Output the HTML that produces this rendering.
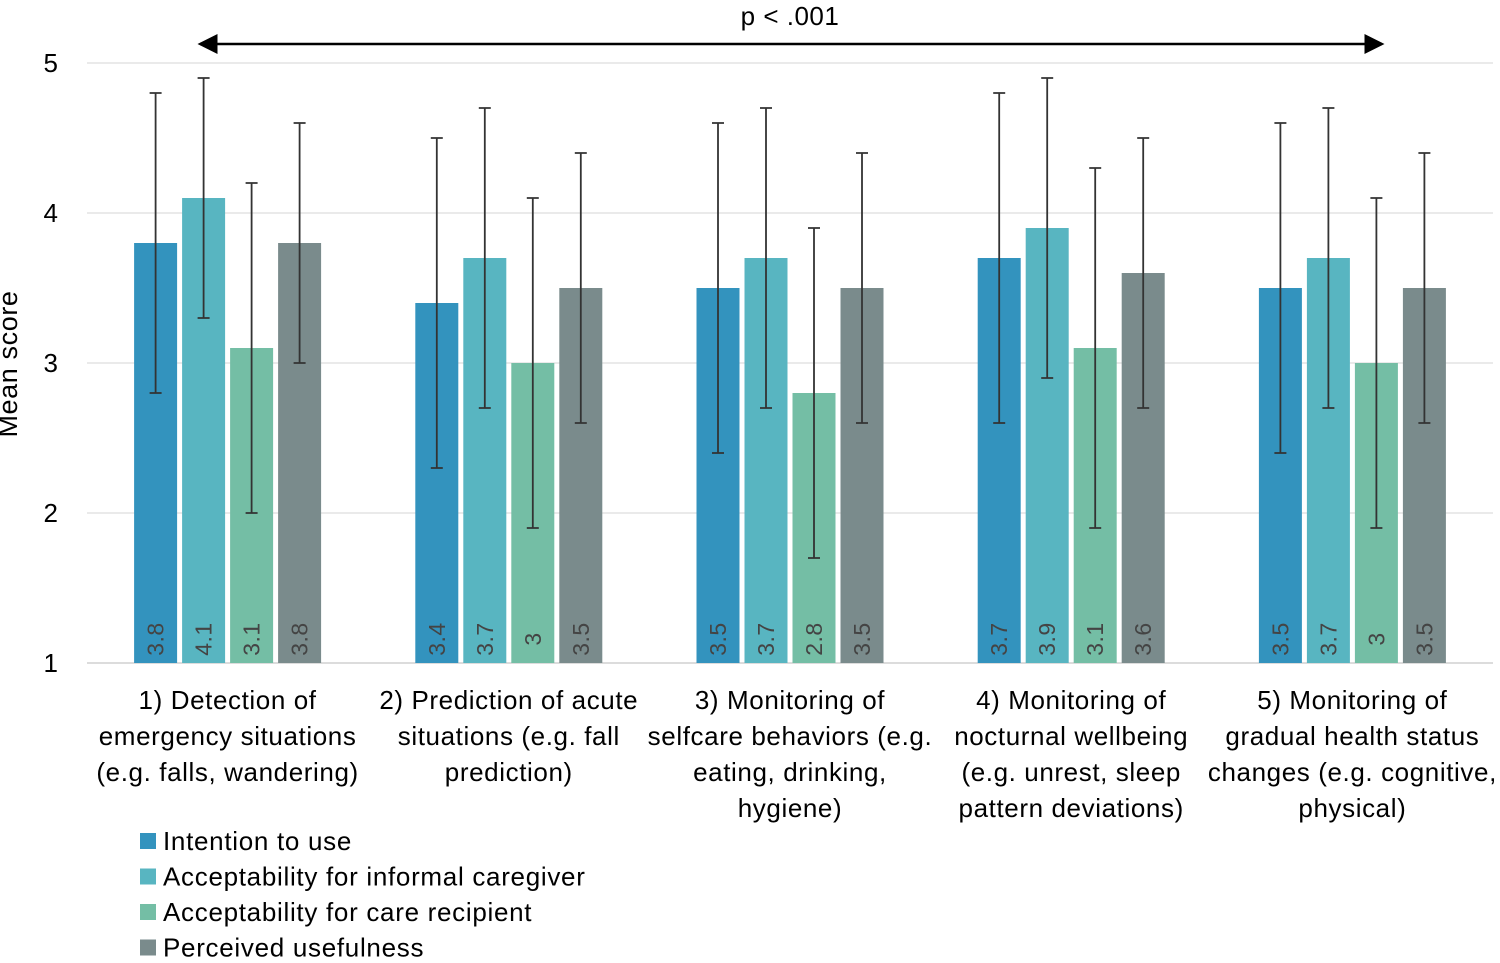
<!DOCTYPE html>
<html><head><meta charset="utf-8"><style>
body{margin:0;background:#fff;}
svg{display:block;font-family:"Liberation Sans",sans-serif;}
</style></head><body>
<svg id="chart" width="1500" height="963" viewBox="0 0 1500 963">
<defs><marker id="ah" markerWidth="8" markerHeight="8" refX="7" refY="4" orient="auto-start-reverse"><path d="M0,0 L8,4 L0,8 z" fill="#000"/></marker></defs>
<g id="grid"></g><g id="bars"></g><g id="labels"></g>
<text x="17" y="364" transform="rotate(-90 17 364)" text-anchor="middle" font-size="27" letter-spacing="0.6" fill="#000">Mean score</text>
<line x1="200" y1="44" x2="1382" y2="44" stroke="#000" stroke-width="2.5" marker-start="url(#ah)" marker-end="url(#ah)"/>
<text x="790" y="25" text-anchor="middle" font-size="26" letter-spacing="0.5" fill="#000">p &lt; .001</text>
<g id="legend"></g>
</svg>
<script>
const categories=[["1) Detection of","emergency situations","(e.g. falls, wandering)"],["2) Prediction of acute","situations (e.g. fall","prediction)"],["3) Monitoring of","selfcare behaviors (e.g.","eating, drinking,","hygiene)"],["4) Monitoring of","nocturnal wellbeing","(e.g. unrest, sleep","pattern deviations)"],["5) Monitoring of","gradual health status","changes (e.g. cognitive,","physical)"]];
const seriesNames=["Intention to use","Acceptability for informal caregiver","Acceptability for care recipient","Perceived usefulness"];
const intention=[3.8,3.4,3.5,3.7,3.5];
const informal=[4.1,3.7,3.7,3.9,3.7];
const recipient=[3.1,3.0,2.8,3.1,3.0];
const usefulness=[3.8,3.5,3.5,3.6,3.5];
const errLow=[[2.8,2.3,2.4,2.6,2.4],[3.3,2.7,2.7,2.9,2.7],[2.0,1.9,1.7,1.9,1.9],[3.0,2.6,2.6,2.7,2.6]];
const errHigh=[[4.8,4.5,4.6,4.8,4.6],[4.9,4.7,4.7,4.9,4.7],[4.2,4.1,3.9,4.3,4.1],[4.6,4.4,4.4,4.5,4.4]];
const yTicks=[1,2,3,4,5];
const series=[intention,informal,recipient,usefulness];
const colors=["#3393BE","#58B5C1","#74BEA5","#7A8B8C"];
const NS="http://www.w3.org/2000/svg";
const X0=87,X1=1493,Y0=663,PX=150;
const y=v=>Y0-(v-1)*PX;
const gw=(X1-X0)/categories.length;
const gx=i=>X0+gw*(i+0.5);
const bw=43,step=48;
function mk(t,a,p){const e=document.createElementNS(NS,t);for(const k in a)e.setAttribute(k,a[k]);p.appendChild(e);return e;}
const grid=document.getElementById('grid'),bars=document.getElementById('bars'),labels=document.getElementById('labels'),legend=document.getElementById('legend');
yTicks.forEach(t=>{
 const l=mk('line',{x1:X0,x2:X1,y1:y(t),y2:y(t),stroke:t===1?'#d0d0d0':'#e4e4e4','stroke-width':1.5},grid);
 
 
 const tx=mk('text',{x:58,y:y(t)+9,'text-anchor':'end','font-size':26,fill:'#000'},grid);tx.textContent=t;
 
 
});
categories.forEach((c,i)=>{
 series.forEach((s,j)=>{
  const cx=gx(i)+(j-1.5)*step;
  const r=mk('rect',{x:cx-bw/2,y:y(s[i]),width:bw,height:Y0-y(s[i]),fill:colors[j]},bars);
  
  
  const lo=y(errLow[j][i]),hi=y(errHigh[j][i]);
  const e=mk('path',{d:`M${cx},${lo}V${hi}M${cx-6},${lo}H${cx+6}M${cx-6},${hi}H${cx+6}`,stroke:'#333',"stroke-width":1.8,fill:'none'},bars);
  
  
  const vt=mk('text',{x:cx+8,y:Y0-24,transform:`rotate(-90 ${cx+8} ${Y0-24})`,'font-size':23,'letter-spacing':0.5,fill:'#444','text-anchor':'middle'},bars);
  vt.textContent=s[i];
  
  
 });
 c.forEach((line,k)=>{
  const t=mk('text',{x:gx(i),y:709+k*36,'text-anchor':'middle','font-size':26,'letter-spacing':0.6,fill:'#000'},labels);
  t.textContent=line;
  
  
 });
});
seriesNames.forEach((n,j)=>{
 const yy=841+j*35.5;
 const r=mk('rect',{x:140,y:yy-8,width:16,height:16,fill:colors[j]},legend);
 
 
 const t=mk('text',{x:163,y:yy+9,'font-size':26,'letter-spacing':0.7,fill:'#000'},legend);
 t.textContent=n;
 
 
});
</script>
</body></html>
